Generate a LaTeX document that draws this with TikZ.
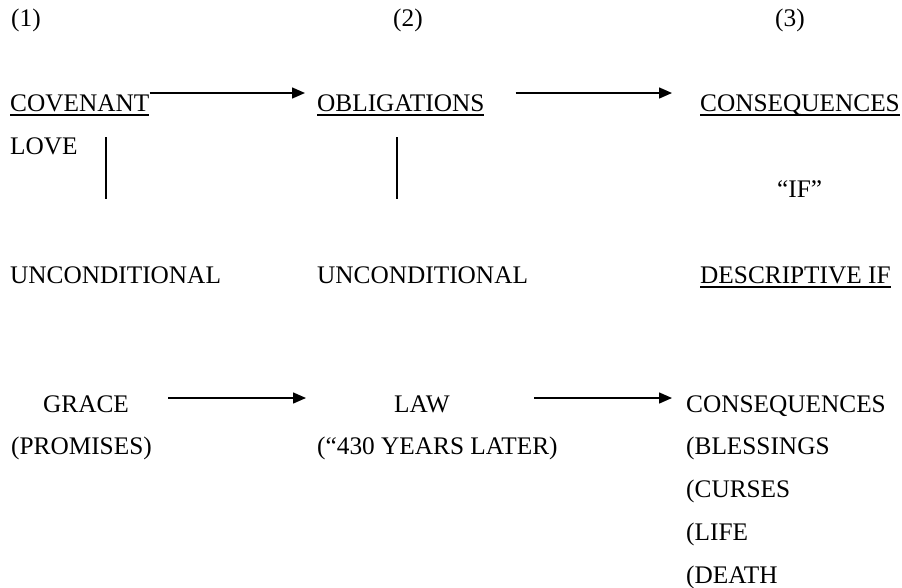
\documentclass[tikz,border=0pt]{standalone}
\usepackage{fontspec}
\setmainfont{Liberation Serif}
\usetikzlibrary{arrows.meta}
\newcommand\ulText[1]{\setbox0\hbox{#1}\rlap{\rule[-4.5pt]{\wd0}{1.8pt}}\box0}
\begin{document}
\begin{tikzpicture}[x=1pt,y=-1pt,
	txt/.style={anchor=base west,inner sep=0pt,font=\fontsize{25.3}{30}\selectfont},
	arr/.style={line width=1.5pt,-{Triangle[length=13pt,width=11pt]}},
	bar/.style={line width=1.3pt}]
	\useasboundingbox (0,0) rectangle (902,587);
	%列标号
	\node[txt] (n1) at (11,26) {(1)};
	\node[txt] (n2) at (393,26) {(2)};
	\node[txt] (n3) at (775,26) {(3)};
	%上半部分
	\node[txt] (cov) at (10,111) {\ulText{COVENANT}};
	\node[txt] (obl) at (317,111) {\ulText{OBLIGATIONS}};
	\node[txt] (conA) at (700,111) {\ulText{CONSEQUENCES}};
	\node[txt] (love) at (10,154) {LOVE};
	\node[txt] (iff) at (777,197) {``IF''};
	\node[txt] (uncA) at (10,283) {UNCONDITIONAL};
	\node[txt] (uncB) at (317,283) {UNCONDITIONAL};
	\node[txt] (desc) at (700,283) {\ulText{DESCRIPTIVE IF}};
	\draw[arr] ([yshift=18pt]cov.base east) -- ([xshift=-12pt,yshift=18pt]obl.base west);
	\draw[arr] ([xshift=31pt,yshift=18pt]obl.base east) -- ([xshift=-28pt,yshift=18pt]conA.base west);
	\coordinate (vA) at (106,137);
	\coordinate (vB) at (397,137);
	\draw[bar] (vA) -- (vA |- 0,199);
	\draw[bar] (vB) -- (vB |- 0,199);
	%下半部分
	\node[txt] (grace) at (43,412) {GRACE};
	\node[txt] (law) at (394,412) {LAW};
	\node[txt] (conB) at (686,412) {CONSEQUENCES};
	\node[txt] (prom) at (11,454) {(PROMISES)};
	\node[txt] (years) at (317,454) {(``430 YEARS LATER)};
	\foreach \w [count=\i] in {BLESSINGS,CURSES,LIFE,DEATH}
		\node[txt] (item\i) at (686,{411+43*\i}) {(\w};
	\draw[arr] ([xshift=39pt,yshift=14pt]grace.base east) -- ([xshift=-88pt,yshift=14pt]law.base west);
	\draw[arr] ([xshift=-152pt,yshift=14pt]conB.base west) -- ([xshift=-14pt,yshift=14pt]conB.base west);
\end{tikzpicture}
\end{document}
